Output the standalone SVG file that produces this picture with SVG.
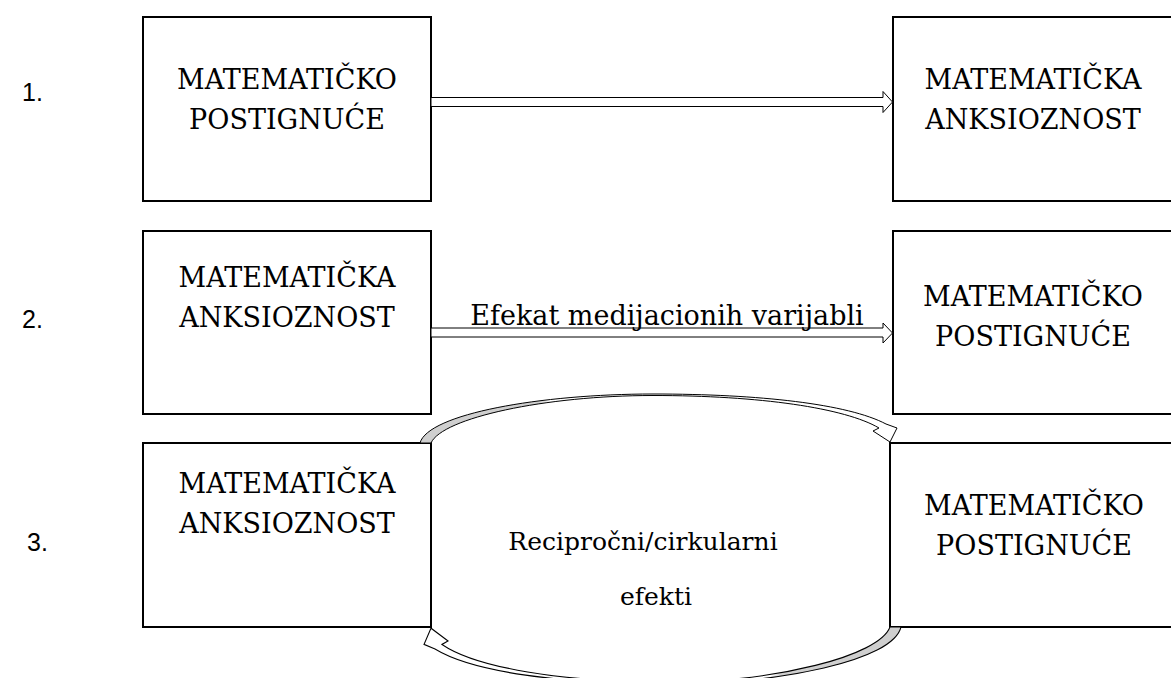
<svg xmlns="http://www.w3.org/2000/svg" width="1171" height="678" viewBox="0 0 1171 678">
<style>
.box{fill:#fff;stroke:#000;stroke-width:2}
.t{font-family:"DejaVu Serif","Liberation Serif",serif;font-size:27px;fill:#000;text-anchor:middle}
.n{font-family:"Liberation Sans",Arial,sans-serif;font-size:25px;fill:#000}
.arr{fill:#fff;stroke:#000;stroke-width:1}
.carr{fill:url(#g);stroke:#000;stroke-width:1}
</style>
<defs>
<linearGradient id="g" gradientUnits="userSpaceOnUse" x1="420" y1="0" x2="620" y2="0">
<stop offset="0" stop-color="#cfcfcf"/>
<stop offset="0.6" stop-color="#cfcfcf"/>
<stop offset="0.65" stop-color="#fff"/>
</linearGradient>
</defs>
<rect width="1171" height="678" fill="#fff"/>
<g id="labels">
<text class="n" x="22" y="101">1.</text>
<text class="n" x="22" y="328">2.</text>
<text class="n" x="27" y="551">3.</text>
</g>
<g id="n1a"><rect class="box" x="143" y="17" width="288" height="184"/>
<text class="t" x="287" y="89">MATEMATIČKO</text><text class="t" x="287" y="129">POSTIGNUĆE</text></g>
<g id="n1b"><rect class="box" x="893" y="17" width="285" height="184"/>
<text class="t" x="1033" y="89">MATEMATIČKA</text><text class="t" x="1033" y="129">ANKSIOZNOST</text></g>
<g id="n2a"><rect class="box" x="143" y="231" width="288" height="183"/>
<text class="t" x="287" y="287">MATEMATIČKA</text><text class="t" x="287" y="327">ANKSIOZNOST</text></g>
<g id="n2b"><rect class="box" x="893" y="231" width="285" height="183"/>
<text class="t" x="1033" y="306">MATEMATIČKO</text><text class="t" x="1033" y="346">POSTIGNUĆE</text></g>
<g id="n3a"><rect class="box" x="143" y="443" width="288" height="184"/>
<text class="t" x="287" y="493">MATEMATIČKA</text><text class="t" x="287" y="533">ANKSIOZNOST</text></g>
<g id="n3b"><rect class="box" x="890" y="443" width="288" height="184"/>
<text class="t" x="1034" y="515">MATEMATIČKO</text><text class="t" x="1034" y="555">POSTIGNUĆE</text></g>
<g id="connectors">
<path class="arr" d="M431,97.5 L883,97.5 L883,91.5 L892.5,102 L883,112.5 L883,106.5 L431,106.5 Z"/>
<path class="arr" d="M431,328 L883,328 L883,323 L892.5,333 L883,343 L883,337 L431,337 Z"/>
<text class="t" x="667" y="325">Efekat medijacionih varijabli</text>
<path id="cup" class="carr" d="M420,443 C428,414 540,394 653,394 C760,394 848,404 886,424 L897,428 L890,442 L873,431 L879,428 C845,408 760,395.5 653,395.5 C545,395.5 442,418 431,443 Z"/>
<path class="carr" transform="rotate(180 660.5 535) translate(0 443) scale(1 1.16) translate(0 -443)" d="M420,443 C428,414 540,394 653,394 C760,394 848,404 886,424 L897,428 L890,442 L873,431 L879,428 C845,408 760,395.5 653,395.5 C545,395.5 442,418 431,443 Z"/>
<text class="t" style="font-size:25px" x="643" y="550">Recipročni/cirkularni</text>
<text class="t" style="font-size:25px" x="656" y="605">efekti</text>
</g>
</svg>
